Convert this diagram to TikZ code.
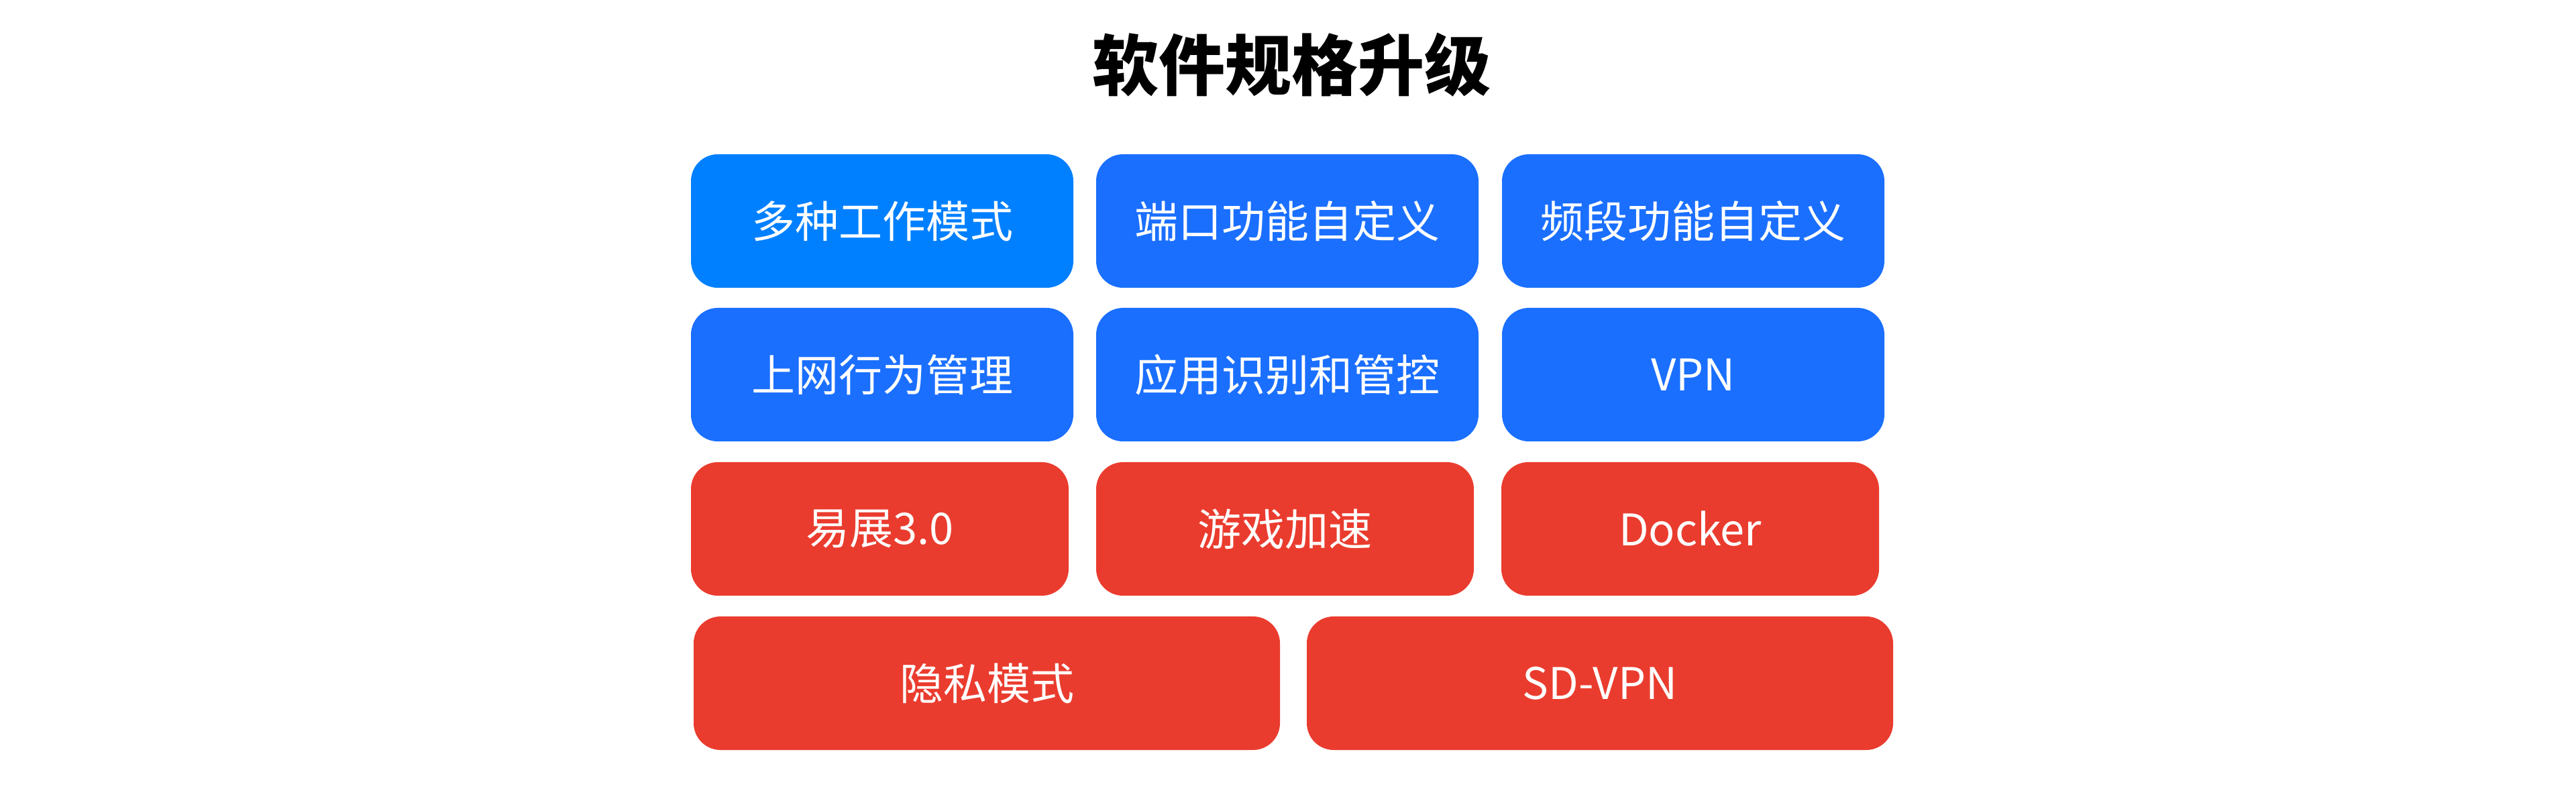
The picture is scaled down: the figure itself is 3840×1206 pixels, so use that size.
\documentclass[tikz,border=0pt]{standalone}
\usepackage{fontspec}
\setmainfont{Noto Sans CJK SC}
\definecolor{blueA}{HTML}{0080FF}
\definecolor{blueB}{HTML}{1A6FFF}
\definecolor{redC}{HTML}{EA3C2E}
\begin{document}
\begin{tikzpicture}[x=0.25pt,y=-0.25pt,
  box/.style={rounded corners=10pt, inner sep=0pt, text=white,
    minimum height=49.75pt, font=\fontsize{16.25pt}{20pt}\selectfont},
  wA/.style={box, minimum width=142.5pt},
  wB/.style={box, minimum width=140.75pt},
  wC/.style={box, minimum width=218.5pt},
  title/.style={inner sep=0pt, text=black, font=\fontsize{24.75pt}{30pt}\selectfont\bfseries}]
\useasboundingbox[fill=white] (0,0) rectangle (3840,1206);
\node[title] (t) at (1925,97) {软件规格升级};
% row 1
\node[wA, fill=blueA] (a1) at (1315,329.5) {多种工作模式};
\node[wA, fill=blueB] (a2) at (1919,329.5) {端口功能自定义};
\node[wA, fill=blueB] (a3) at (2524,329.5) {频段功能自定义};
% row 2
\node[wA, fill=blueB] (b1) at (1315,558.5) {上网行为管理};
\node[wA, fill=blueB] (b2) at (1919,558.5) {应用识别和管控};
\node[wA, fill=blueB] (b3) at (2524,558.5) {VPN};
% row 3
\node[wB, fill=redC] (c1) at (1311.5,788.5) {易展3.0};
\node[wB, fill=redC] (c2) at (1915.5,788.5) {游戏加速};
\node[wB, fill=redC] (c3) at (2519.5,788.5) {Docker};
% row 4
\node[wC, fill=redC] (d1) at (1471,1018.5) {隐私模式};
\node[wC, fill=redC] (d2) at (2385,1018.5) {SD-VPN};
\end{tikzpicture}
\end{document}
